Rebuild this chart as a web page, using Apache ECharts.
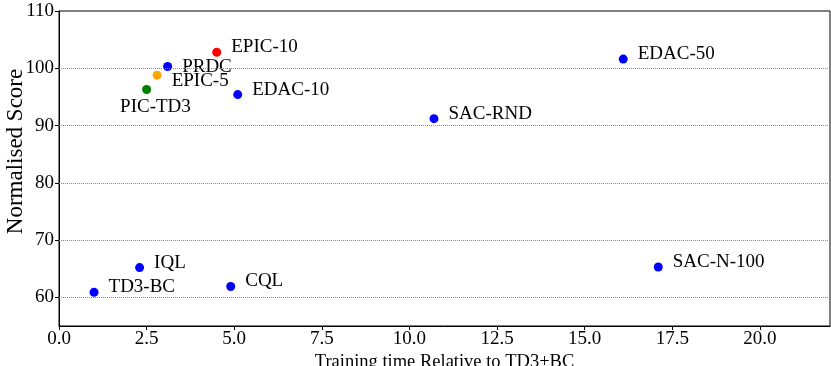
<!DOCTYPE html>
<html>
<head>
<meta charset="utf-8">
<script src="https://cdn.jsdelivr.net/npm/echarts@6/dist/echarts.min.js"></script>
<style>
  html, body { margin: 0; padding: 0; background: #fff; }
  #chart { width: 831px; height: 366px; }
</style>
</head>
<body>
<div id="chart"></div>
<script>
// Methods, training time (relative to TD3+BC) and normalised score
const methods = ['TD3-BC', 'IQL', 'CQL', 'PIC-TD3', 'EPIC-5', 'PRDC', 'EPIC-10', 'EDAC-10', 'SAC-RND', 'EDAC-50', 'SAC-N-100'];
const trainTime = [1.0, 2.3, 4.9, 2.5, 2.8, 3.1, 4.5, 5.1, 10.7, 16.1, 17.1];
const scores = [60.9, 65.2, 61.9, 96.3, 98.8, 100.3, 102.8, 95.4, 91.2, 101.6, 65.3];

const xTicks = [0, 2.5, 5, 7.5, 10, 12.5, 15, 17.5, 20];
const yTicks = [60, 70, 80, 90, 100, 110];
const gridLines = [60, 70, 80, 90, 100];

// Marker colours: our own methods stand out, baselines are blue
const pointColor = { 'EPIC-10': '#ff0000', 'EPIC-5': '#ffa500', 'PIC-TD3': '#008000' };
// Label nudges [dx, dy] in pixels where the default placement would collide
const labelNudge = { 'PRDC': [0, 5], 'EPIC-5': [0, 11], 'PIC-TD3': [-41, 23] };

const font = 'Liberation Serif, Times New Roman, serif';

const points = methods.map((name, i) => {
  const nudge = labelNudge[name] || [0, 0];
  return {
    name,
    value: [trainTime[i], scores[i]],
    itemStyle: { color: pointColor[name] || '#0000ff', opacity: 1 },
    label: { offset: [nudge[0], -5 + nudge[1]] }
  };
});

const chart = echarts.init(document.getElementById('chart'), null, { renderer: 'canvas' });
chart.setOption({
  animation: false,
  backgroundColor: '#ffffff',
  grid: {
    left: 59, right: 1, top: 11, bottom: 40,
    outerBoundsMode: 'none', containLabel: false,
    show: true, borderColor: '#000', borderWidth: 1, backgroundColor: 'transparent'
  },
  xAxis: {
    type: 'value', min: 0, max: 22,
    name: 'Training time Relative to TD3+BC', nameLocation: 'middle', nameGap: 27,
    nameMoveOverlap: false,
    nameTextStyle: { fontFamily: font, fontSize: 18.5, color: '#000', verticalAlign: 'top' },
    axisLine: { show: true, lineStyle: { color: '#000', width: 1 } },
    axisTick: { show: true, inside: false, length: 4, customValues: xTicks, lineStyle: { color: '#000' } },
    axisLabel: { customValues: xTicks, margin: 4, fontFamily: font, fontSize: 19, color: '#000', formatter: v => v.toFixed(1) },
    splitLine: { show: false }
  },
  yAxis: {
    type: 'value', min: 55, max: 110,
    name: 'Normalised Score', nameLocation: 'middle', nameGap: 32,
    nameMoveOverlap: false,
    nameTextStyle: { fontFamily: font, fontSize: 23, color: '#000', padding: [0, 0, 0, 34] },
    axisLine: { show: true, lineStyle: { color: '#000', width: 1 } },
    axisTick: { show: true, inside: false, length: 4, customValues: yTicks, lineStyle: { color: '#000' } },
    axisLabel: { customValues: yTicks, margin: 5, fontFamily: font, fontSize: 19, color: '#000' },
    splitLine: { show: false }
  },
  series: [{
    type: 'scatter',
    symbol: 'circle',
    symbolSize: 9,
    data: points,
    label: {
      show: true, position: 'right', distance: 10,
      formatter: p => p.name,
      fontFamily: font, fontSize: 19, color: '#000'
    },
    emphasis: { disabled: true },
    markLine: {
      silent: true, symbol: 'none', label: { show: false },
      lineStyle: { type: 'dotted', color: '#888', width: 1 },
      data: gridLines.map(v => ({ yAxis: v }))
    },
    z: 3
  }]
});
</script>
</body>
</html>
